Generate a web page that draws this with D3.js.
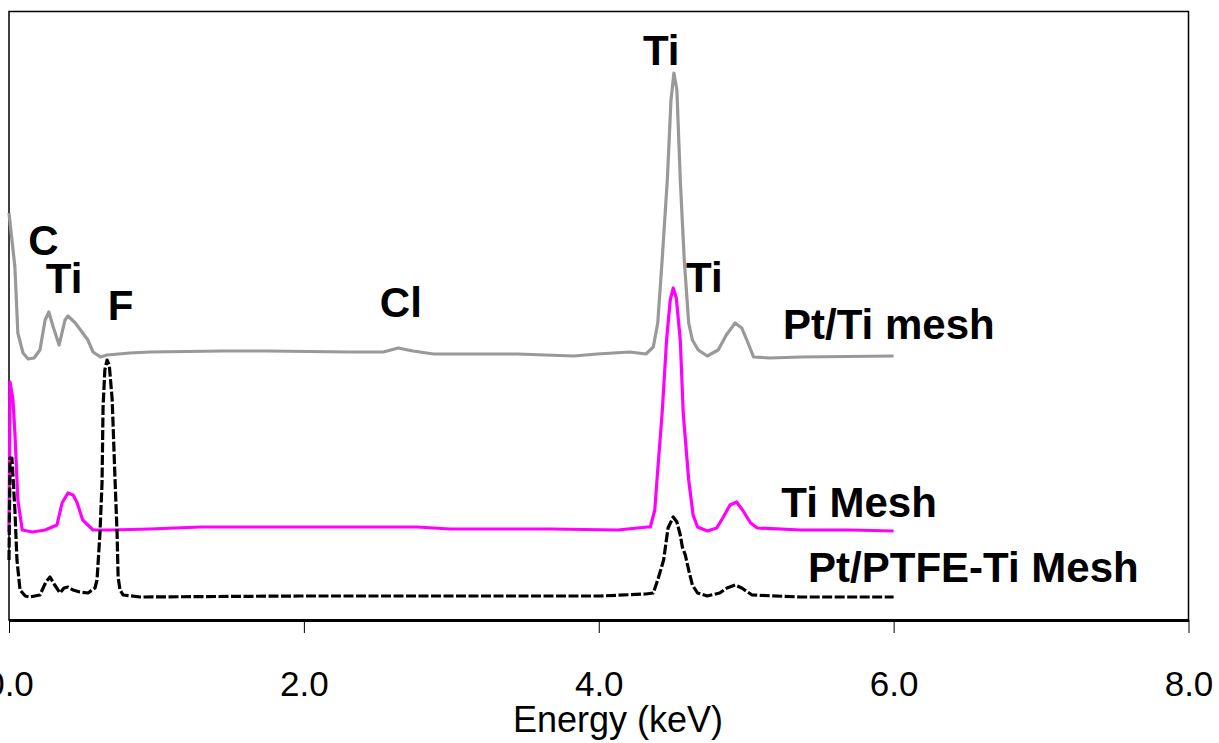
<!DOCTYPE html>
<html>
<head>
<meta charset="utf-8">
<script src="https://cdn.jsdelivr.net/npm/d3@7"></script>
<style>
	body { margin: 0; background: #ffffff; }
	svg { display: block; }
	text { font-family: "Liberation Sans", Arial, sans-serif; fill: #000000; }
</style>
</head>
<body>
<div id="chart"></div>
<script>
// EDS spectra, energy in keV and relative intensity (offset per series)

//Pt/Ti mesh (gray)
const ptTiEnergy = [0.00, 0.04, 0.06, 0.095, 0.13, 0.17, 0.21, 0.245, 0.27, 0.30, 0.34, 0.38, 0.40, 0.45, 0.50, 0.535, 0.57, 0.62, 0.665, 0.82,
	0.957, 1.45, 1.75, 2.31, 2.54, 2.64, 2.74, 2.88, 3.45, 3.83, 3.99, 4.21, 4.32, 4.37, 4.40, 4.43, 4.465, 4.49, 4.51, 4.53,
	4.553, 4.58, 4.61, 4.635, 4.675, 4.736, 4.81, 4.865, 4.925, 4.97, 5.01, 5.05, 5.16, 5.37, 6.00];
const ptTiCounts = [407, 353, 287, 267, 261, 262, 270, 300, 308, 293, 275, 300, 304, 297, 287, 280, 268, 263, 265, 267,
	268, 269, 269, 268, 268, 272, 269, 266, 266, 264, 266, 268, 266, 273, 297, 360, 440, 520, 547, 530,
	440, 360, 297, 280, 270, 264, 270, 285, 297, 292, 278, 263, 262, 263, 264];

//Ti Mesh (magenta)
const tiEnergy = [0.00, 0.007, 0.027, 0.04, 0.06, 0.09, 0.16, 0.245, 0.325, 0.36, 0.40, 0.435, 0.46, 0.50, 0.57, 0.685,
	0.957, 1.30, 1.97, 2.77, 2.99, 3.67, 4.13, 4.33, 4.35, 4.38, 4.40, 4.43, 4.46, 4.485, 4.505, 4.526, 4.553, 4.573,
	4.61, 4.64, 4.67, 4.736, 4.80, 4.845, 4.89, 4.935, 4.975, 5.03, 5.075, 5.37, 5.71, 6.00];
const tiCounts = [88, 238, 220, 187, 120, 90, 88, 90, 95, 117, 127, 125, 118, 100, 90, 90,
	91, 93, 93, 93, 91, 91, 90, 93, 93, 110, 150, 207, 280, 320, 332, 322, 280, 207,
	140, 105, 93, 89, 92, 103, 115, 118, 110, 97, 92, 90, 90, 89];

//Pt/PTFE-Ti Mesh (black dashed)
const ptfeEnergy = [0.00, 0.007, 0.02, 0.04, 0.054, 0.075, 0.11, 0.14, 0.21, 0.25, 0.278, 0.31, 0.346, 0.373, 0.40, 0.434, 0.48, 0.536,
	0.583, 0.597, 0.617, 0.631, 0.638, 0.65, 0.665, 0.68, 0.70, 0.72, 0.733, 0.74, 0.753, 0.774, 0.89, 1.97, 4.01,
	4.32, 4.37, 4.40, 4.44, 4.47, 4.505, 4.53, 4.553, 4.567, 4.587, 4.61, 4.635, 4.67, 4.736, 4.82, 4.87, 4.925,
	4.97, 5.04, 5.37, 6.00];
const ptfeCounts = [60, 162, 162, 110, 60, 30, 24, 23, 25, 38, 43, 35, 27, 32, 33, 30, 28, 27,
	32, 40, 87, 137, 213, 250, 260, 255, 220, 137, 87, 43, 30, 25, 23, 24, 24,
	26, 27, 40, 60, 92, 103, 98, 85, 73, 65, 50, 35, 27, 24, 27, 32, 35,
	32, 25, 23, 23];

//axis ticks
const xTicks = [0, 2, 4, 6, 8];

//peak and series labels: [text, energy, intensity at baseline]
const labelTexts = ["Ti", "C", "Ti", "F", "Cl", "Ti", "Pt/Ti mesh", "Ti Mesh", "Pt/PTFE-Ti Mesh"];
const labelEnergy = [4.30, 0.13, 0.25, 0.67, 2.515, 4.592, 5.25, 5.238, 5.42];
const labelCounts = [555, 365, 327, 300, 303, 328, 281, 103, 38];

//svg dimensions
const svgWidth = 1219;
const svgHeight = 743;

const svg = d3.select("#chart").append("svg")
	.attr("width", svgWidth)
	.attr("height", svgHeight);

//plot area
const plotLeft = 9;
const plotRight = 1188.5;
const plotTop = 11.5;
const plotBottom = 620;

const x = d3.scaleLinear().domain([0, 8]).range([plotLeft, plotRight]);
const y = d3.scaleLinear().domain([0, 610]).range([plotBottom, plotBottom - 610]);

//frame around plot
svg.append("rect")
	.attr("x", plotLeft)
	.attr("y", plotTop)
	.attr("width", plotRight - plotLeft)
	.attr("height", plotBottom - plotTop)
	.attr("fill", "none")
	.attr("stroke", "#000000")
	.attr("stroke-width", 1.5);

//line generator
const line = d3.line()
	.x(function(d) { return x(d[0]); })
	.y(function(d) { return y(d[1]); });

function drawSeries(energy, counts, color, dash) {
	let pts = d3.zip(energy, counts);
	svg.append("path")
		.datum(pts)
		.attr("d", line)
		.attr("fill", "none")
		.attr("stroke", color)
		.attr("stroke-width", 3.2)
		.attr("stroke-linejoin", "round")
		.attr("stroke-dasharray", dash);
}

drawSeries(ptTiEnergy, ptTiCounts, "#999999", null);
drawSeries(tiEnergy, tiCounts, "#ff00ff", null);
drawSeries(ptfeEnergy, ptfeCounts, "#000000", "10,2.5");

//x axis
const xAxis = svg.append("g")
	.attr("transform", `translate(0,${plotBottom})`)
	.call(d3.axisBottom(x)
		.tickValues(xTicks)
		.tickFormat(d3.format(".1f"))
		.tickSize(13)
		.tickSizeOuter(0));

xAxis.select(".domain")
	.attr("stroke", "#000000")
	.attr("stroke-width", 3);
xAxis.selectAll(".tick line")
	.attr("stroke", "#000000")
	.attr("stroke-width", 1);
xAxis.selectAll(".tick text")
	.attr("y", 76)
	.attr("dy", 0)
	.style("font-family", "'Liberation Sans', Arial, sans-serif")
	.style("font-size", "35px")
	.attr("fill", "#000000");

//axis title
svg.append("text")
	.attr("x", 618)
	.attr("y", 732)
	.attr("text-anchor", "middle")
	.style("font-size", "36px")
	.text("Energy (keV)");

//labels
svg.selectAll(".peak-label")
	.data(labelTexts)
	.enter()
	.append("text")
		.attr("class", "peak-label")
		.attr("x", function(d, i) { return x(labelEnergy[i]); })
		.attr("y", function(d, i) { return y(labelCounts[i]); })
		.style("font-size", "42px")
		.style("font-weight", "bold")
		.text(function(d) { return d; });
</script>
</body>
</html>
